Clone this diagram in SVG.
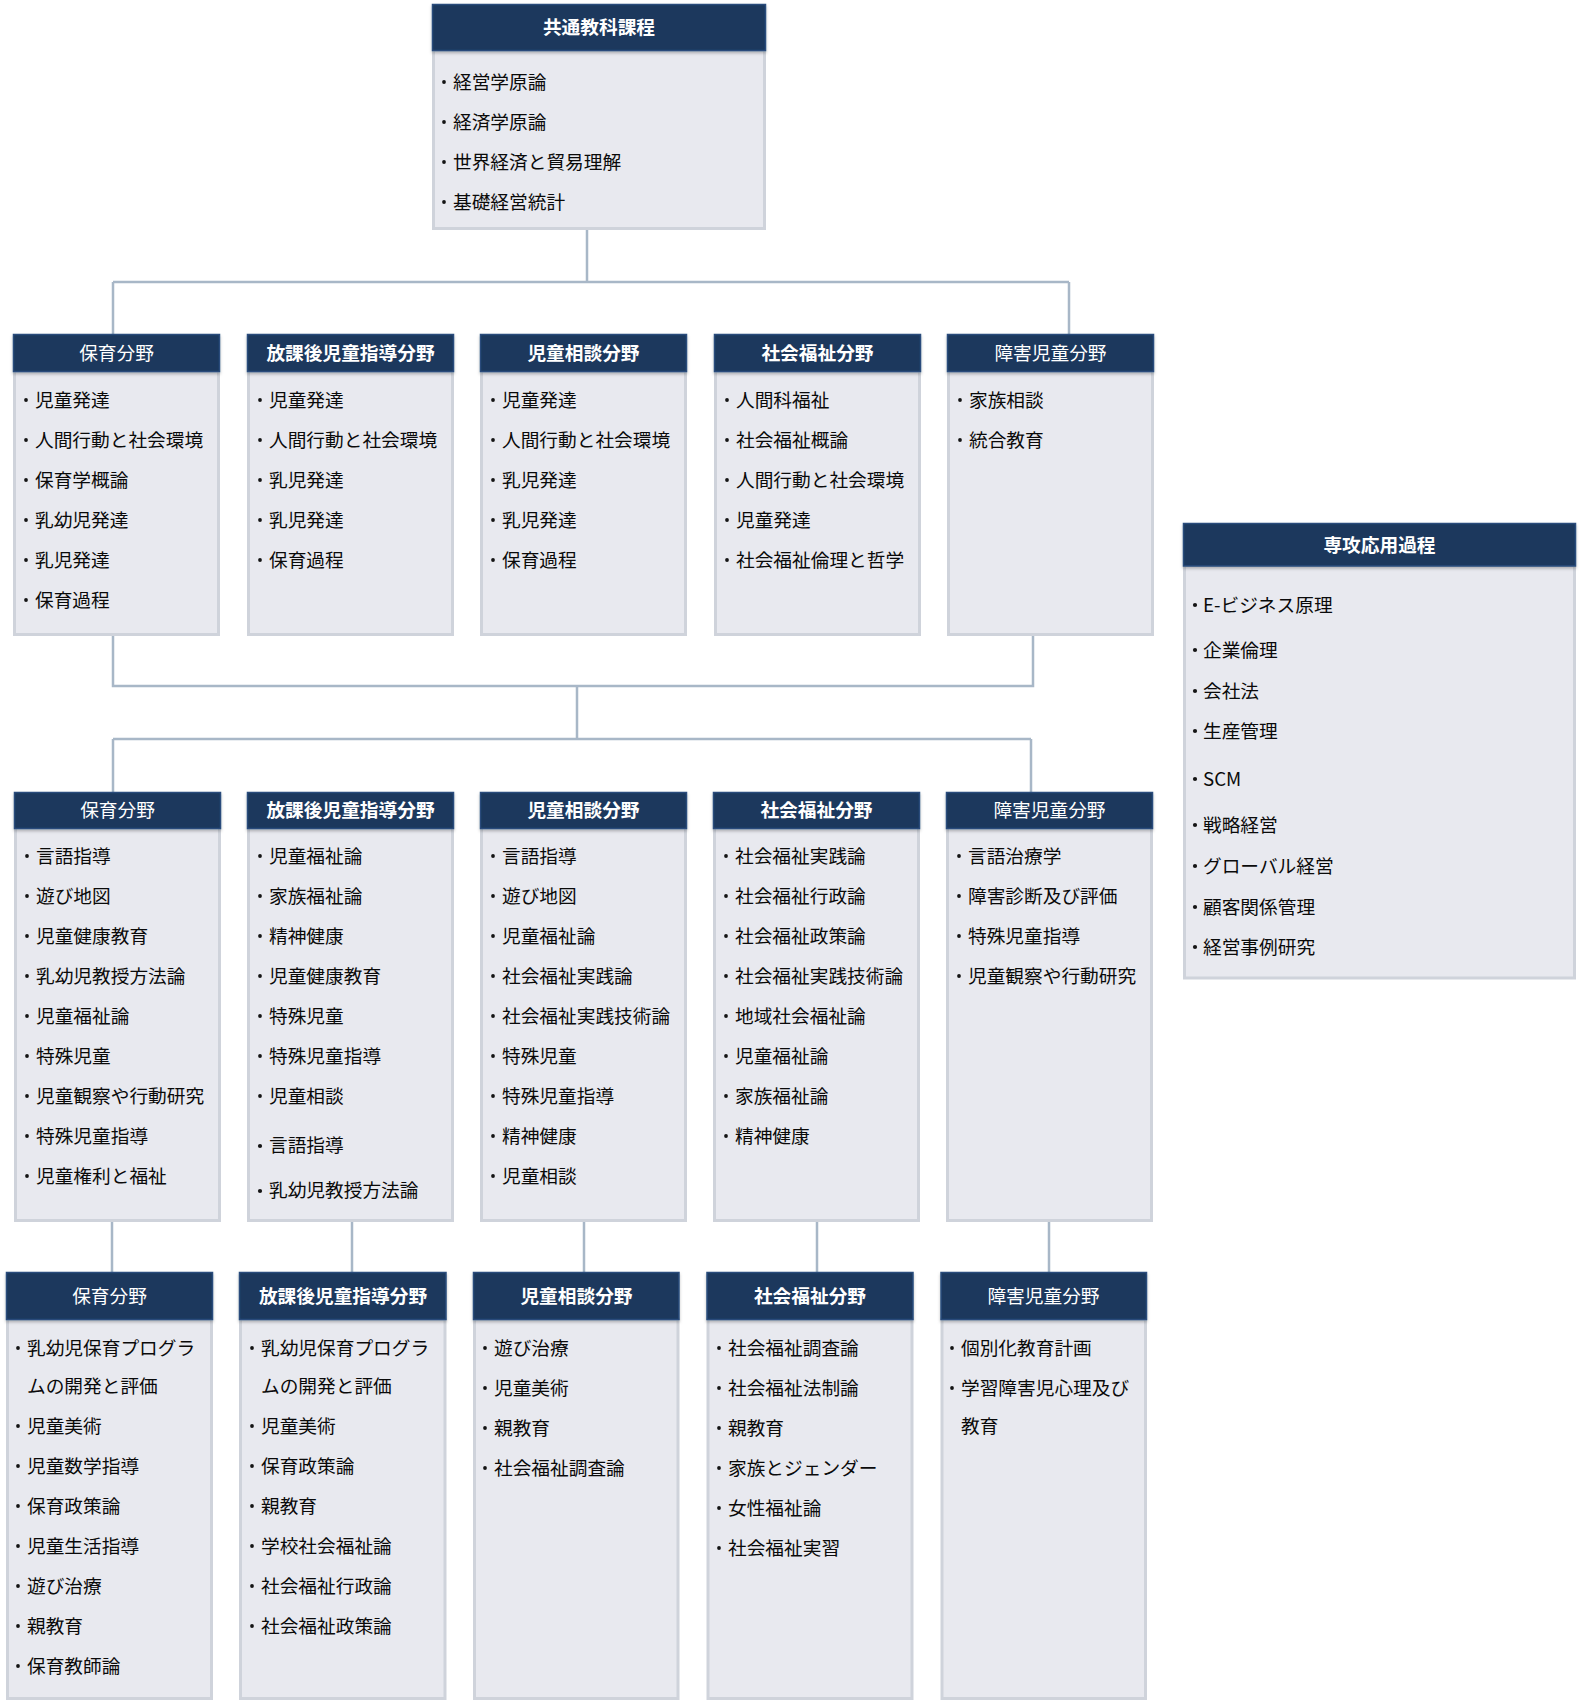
<svg xmlns="http://www.w3.org/2000/svg" width="1582" height="1702" viewBox="0 0 1582 1702">
<style>
.hd{fill:#1b375d;stroke:#2a4c7c;stroke-width:1.5;filter:url(#sh)}
.bd{fill:#e8e9ef;stroke:#cfd3db;stroke-width:3}
.t{font-family:"Noto Sans CJK JP","Noto Sans",sans-serif;font-size:18.7px;fill:#fff;font-weight:bold;text-anchor:middle;dominant-baseline:central;transform:translateY(-2px)}
.tn{font-weight:normal}
.i{font-family:"Noto Sans CJK JP","Noto Sans",sans-serif;font-size:18.7px;fill:#0a0a0a;dominant-baseline:central;transform:translateY(-2.5px)}
.b{fill:#141414}
.c{stroke:#a8b7c7;stroke-width:2.5;fill:none}
</style>
<defs>
<filter id="sh" x="-5%" y="-20%" width="110%" height="160%">
<feDropShadow dx="0" dy="2" stdDeviation="1.5" flood-color="#000" flood-opacity="0.25"/>
</filter>
</defs>
<rect width="1582" height="1702" fill="#fff"/>

<g id="connectors">
<path class="c" d="M587 230V282M113 282H1069M113 282V334M1069 282V334"/>
<path class="c" d="M113 636V686H1033V636M577 686V739M113 739H1031M113 739V792M1031 739V792"/>
<path class="c" d="M112 1222V1272M352 1222V1272M584 1222V1272M817 1222V1272M1049 1222V1272"/>
</g>

<g id="n-common">
<rect class="bd" x="433.5" y="50" width="331" height="178.5"/>
<rect class="hd" x="432.5" y="4.5" width="333" height="46"/>
<text class="t" x="599" y="27">共通教科課程</text>
<g class="b"><circle cx="444" cy="82" r="1.9"/><circle cx="444" cy="122" r="1.9"/><circle cx="444" cy="162" r="1.9"/><circle cx="444" cy="202" r="1.9"/></g>
<text class="i" x="453"><tspan y="82" x="453">経営学原論</tspan><tspan y="122" x="453">経済学原論</tspan><tspan y="162" x="453">世界経済と貿易理解</tspan><tspan y="202" x="453">基礎経営統計</tspan></text>
</g>

<g id="n-major">
<rect class="bd" x="1184.5" y="565" width="390" height="413"/>
<rect class="hd" x="1183.5" y="523.5" width="392" height="42.5"/>
<text class="t" x="1379.5" y="545">専攻応用過程</text>
<g class="b"><circle cx="1195" cy="605" r="2.1"/><circle cx="1195" cy="650" r="2.1"/><circle cx="1195" cy="691" r="2.1"/><circle cx="1195" cy="731" r="2.1"/><circle cx="1195" cy="779" r="2.1"/><circle cx="1195" cy="825" r="2.1"/><circle cx="1195" cy="866" r="2.1"/><circle cx="1195" cy="907" r="2.1"/><circle cx="1195" cy="947" r="2.1"/></g>
<text class="i" x="1203"><tspan x="1203" y="605">E-ビジネス原理</tspan><tspan x="1203" y="650">企業倫理</tspan><tspan x="1203" y="691">会社法</tspan><tspan x="1203" y="731">生産管理</tspan><tspan x="1203" y="779">SCM</tspan><tspan x="1203" y="825">戦略経営</tspan><tspan x="1203" y="866">グローバル経営</tspan><tspan x="1203" y="907">顧客関係管理</tspan><tspan x="1203" y="947">経営事例研究</tspan></text>
</g>

<!-- Row 1 -->
<g id="r1-hoiku">
<rect class="bd" x="14.5" y="371" width="204" height="263.5"/>
<rect class="hd" x="13.5" y="334.5" width="206" height="37"/>
<text class="t tn" x="116.5" y="353">保育分野</text>
<g class="b"><circle cx="26" cy="400" r="1.9"/><circle cx="26" cy="440" r="1.9"/><circle cx="26" cy="480" r="1.9"/><circle cx="26" cy="520" r="1.9"/><circle cx="26" cy="560" r="1.9"/><circle cx="26" cy="600" r="1.9"/></g>
<text class="i"><tspan x="35" y="400">児童発達</tspan><tspan x="35" y="440">人間行動と社会環境</tspan><tspan x="35" y="480">保育学概論</tspan><tspan x="35" y="520">乳幼児発達</tspan><tspan x="35" y="560">乳児発達</tspan><tspan x="35" y="600">保育過程</tspan></text>
</g>

<g id="r1-houkago">
<rect class="bd" x="248.5" y="371" width="204" height="263.5"/>
<rect class="hd" x="247.5" y="334.5" width="206" height="37"/>
<text class="t" x="350.5" y="353">放課後児童指導分野</text>
<g class="b"><circle cx="260" cy="400" r="1.9"/><circle cx="260" cy="440" r="1.9"/><circle cx="260" cy="480" r="1.9"/><circle cx="260" cy="520" r="1.9"/><circle cx="260" cy="560" r="1.9"/></g>
<text class="i"><tspan x="269" y="400">児童発達</tspan><tspan x="269" y="440">人間行動と社会環境</tspan><tspan x="269" y="480">乳児発達</tspan><tspan x="269" y="520">乳児発達</tspan><tspan x="269" y="560">保育過程</tspan></text>
</g>

<g id="r1-soudan">
<rect class="bd" x="481.5" y="371" width="204" height="263.5"/>
<rect class="hd" x="480.5" y="334.5" width="206" height="37"/>
<text class="t" x="583.5" y="353">児童相談分野</text>
<g class="b"><circle cx="493" cy="400" r="1.9"/><circle cx="493" cy="440" r="1.9"/><circle cx="493" cy="480" r="1.9"/><circle cx="493" cy="520" r="1.9"/><circle cx="493" cy="560" r="1.9"/></g>
<text class="i"><tspan x="502" y="400">児童発達</tspan><tspan x="502" y="440">人間行動と社会環境</tspan><tspan x="502" y="480">乳児発達</tspan><tspan x="502" y="520">乳児発達</tspan><tspan x="502" y="560">保育過程</tspan></text>
</g>

<g id="r1-fukushi">
<rect class="bd" x="715.5" y="371" width="204" height="263.5"/>
<rect class="hd" x="714.5" y="334.5" width="206" height="37"/>
<text class="t" x="817.5" y="353">社会福祉分野</text>
<g class="b"><circle cx="727" cy="400" r="1.9"/><circle cx="727" cy="440" r="1.9"/><circle cx="727" cy="480" r="1.9"/><circle cx="727" cy="520" r="1.9"/><circle cx="727" cy="560" r="1.9"/></g>
<text class="i"><tspan x="736" y="400">人間科福祉</tspan><tspan x="736" y="440">社会福祉概論</tspan><tspan x="736" y="480">人間行動と社会環境</tspan><tspan x="736" y="520">児童発達</tspan><tspan x="736" y="560">社会福祉倫理と哲学</tspan></text>
</g>

<g id="r1-shougai">
<rect class="bd" x="948.5" y="371" width="204" height="263.5"/>
<rect class="hd" x="947.5" y="334.5" width="206" height="37"/>
<text class="t tn" x="1050.5" y="353">障害児童分野</text>
<g class="b"><circle cx="960" cy="400" r="1.9"/><circle cx="960" cy="440" r="1.9"/></g>
<text class="i"><tspan x="969" y="400">家族相談</tspan><tspan x="969" y="440">統合教育</tspan></text>
</g>

<!-- Row 2 -->
<g id="r2-hoiku">
<rect class="bd" x="15.5" y="827" width="204" height="393.5"/>
<rect class="hd" x="14.5" y="792.5" width="206" height="36"/>
<text class="t tn" x="117.5" y="810">保育分野</text>
<g class="b"><circle cx="27" cy="856" r="1.9"/><circle cx="27" cy="896" r="1.9"/><circle cx="27" cy="936" r="1.9"/><circle cx="27" cy="976" r="1.9"/><circle cx="27" cy="1016" r="1.9"/><circle cx="27" cy="1056" r="1.9"/><circle cx="27" cy="1096" r="1.9"/><circle cx="27" cy="1136" r="1.9"/><circle cx="27" cy="1176" r="1.9"/></g>
<text class="i"><tspan x="36" y="856">言語指導</tspan><tspan x="36" y="896">遊び地図</tspan><tspan x="36" y="936">児童健康教育</tspan><tspan x="36" y="976">乳幼児教授方法論</tspan><tspan x="36" y="1016">児童福祉論</tspan><tspan x="36" y="1056">特殊児童</tspan><tspan x="36" y="1096">児童観察や行動研究</tspan><tspan x="36" y="1136">特殊児童指導</tspan><tspan x="36" y="1176">児童権利と福祉</tspan></text>
</g>

<g id="r2-houkago">
<rect class="bd" x="248.5" y="827" width="204" height="393.5"/>
<rect class="hd" x="247.5" y="792.5" width="206" height="36"/>
<text class="t" x="350.5" y="810">放課後児童指導分野</text>
<g class="b"><circle cx="260" cy="856" r="1.9"/><circle cx="260" cy="896" r="1.9"/><circle cx="260" cy="936" r="1.9"/><circle cx="260" cy="976" r="1.9"/><circle cx="260" cy="1016" r="1.9"/><circle cx="260" cy="1056" r="1.9"/><circle cx="260" cy="1096" r="1.9"/><circle cx="260" cy="1146" r="2.1"/><circle cx="260" cy="1191" r="2.1"/></g>
<text class="i"><tspan x="269" y="856">児童福祉論</tspan><tspan x="269" y="896">家族福祉論</tspan><tspan x="269" y="936">精神健康</tspan><tspan x="269" y="976">児童健康教育</tspan><tspan x="269" y="1016">特殊児童</tspan><tspan x="269" y="1056">特殊児童指導</tspan><tspan x="269" y="1096">児童相談</tspan><tspan x="269" y="1145">言語指導</tspan><tspan x="269" y="1190">乳幼児教授方法論</tspan></text>
</g>

<g id="r2-soudan">
<rect class="bd" x="481.5" y="827" width="204" height="393.5"/>
<rect class="hd" x="480.5" y="792.5" width="206" height="36"/>
<text class="t" x="583.5" y="810">児童相談分野</text>
<g class="b"><circle cx="493" cy="856" r="1.9"/><circle cx="493" cy="896" r="1.9"/><circle cx="493" cy="936" r="1.9"/><circle cx="493" cy="976" r="1.9"/><circle cx="493" cy="1016" r="1.9"/><circle cx="493" cy="1056" r="1.9"/><circle cx="493" cy="1096" r="1.9"/><circle cx="493" cy="1136" r="1.9"/><circle cx="493" cy="1176" r="1.9"/></g>
<text class="i"><tspan x="502" y="856">言語指導</tspan><tspan x="502" y="896">遊び地図</tspan><tspan x="502" y="936">児童福祉論</tspan><tspan x="502" y="976">社会福祉実践論</tspan><tspan x="502" y="1016">社会福祉実践技術論</tspan><tspan x="502" y="1056">特殊児童</tspan><tspan x="502" y="1096">特殊児童指導</tspan><tspan x="502" y="1136">精神健康</tspan><tspan x="502" y="1176">児童相談</tspan></text>
</g>

<g id="r2-fukushi">
<rect class="bd" x="714.5" y="827" width="204" height="393.5"/>
<rect class="hd" x="713.5" y="792.5" width="206" height="36"/>
<text class="t" x="816.5" y="810">社会福祉分野</text>
<g class="b"><circle cx="726" cy="856" r="1.9"/><circle cx="726" cy="896" r="1.9"/><circle cx="726" cy="936" r="1.9"/><circle cx="726" cy="976" r="1.9"/><circle cx="726" cy="1016" r="1.9"/><circle cx="726" cy="1056" r="1.9"/><circle cx="726" cy="1096" r="1.9"/><circle cx="726" cy="1136" r="1.9"/></g>
<text class="i"><tspan x="735" y="856">社会福祉実践論</tspan><tspan x="735" y="896">社会福祉行政論</tspan><tspan x="735" y="936">社会福祉政策論</tspan><tspan x="735" y="976">社会福祉実践技術論</tspan><tspan x="735" y="1016">地域社会福祉論</tspan><tspan x="735" y="1056">児童福祉論</tspan><tspan x="735" y="1096">家族福祉論</tspan><tspan x="735" y="1136">精神健康</tspan></text>
</g>

<g id="r2-shougai">
<rect class="bd" x="947.5" y="827" width="204" height="393.5"/>
<rect class="hd" x="946.5" y="792.5" width="206" height="36"/>
<text class="t tn" x="1049.5" y="810">障害児童分野</text>
<g class="b"><circle cx="959" cy="856" r="1.9"/><circle cx="959" cy="896" r="1.9"/><circle cx="959" cy="936" r="1.9"/><circle cx="959" cy="976" r="1.9"/></g>
<text class="i"><tspan x="968" y="856">言語治療学</tspan><tspan x="968" y="896">障害診断及び評価</tspan><tspan x="968" y="936">特殊児童指導</tspan><tspan x="968" y="976">児童観察や行動研究</tspan></text>
</g>

<!-- Row 3 -->
<g id="r3-hoiku">
<rect class="bd" x="7.5" y="1319" width="204" height="379.5"/>
<rect class="hd" x="6.5" y="1272.5" width="206" height="47"/>
<text class="t tn" x="109.5" y="1296">保育分野</text>
<g class="b"><circle cx="18" cy="1348" r="1.9"/><circle cx="18" cy="1426" r="1.9"/><circle cx="18" cy="1466" r="1.9"/><circle cx="18" cy="1506" r="1.9"/><circle cx="18" cy="1546" r="1.9"/><circle cx="18" cy="1586" r="1.9"/><circle cx="18" cy="1626" r="1.9"/><circle cx="18" cy="1666" r="1.9"/></g>
<text class="i"><tspan x="27" y="1348">乳幼児保育プログラ</tspan><tspan x="27" y="1386">ムの開発と評価</tspan><tspan x="27" y="1426">児童美術</tspan><tspan x="27" y="1466">児童数学指導</tspan><tspan x="27" y="1506">保育政策論</tspan><tspan x="27" y="1546">児童生活指導</tspan><tspan x="27" y="1586">遊び治療</tspan><tspan x="27" y="1626">親教育</tspan><tspan x="27" y="1666">保育教師論</tspan></text>
</g>

<g id="r3-houkago">
<rect class="bd" x="240.5" y="1319" width="204.5" height="379.5"/>
<rect class="hd" x="239.5" y="1272.5" width="206.5" height="47"/>
<text class="t" x="343" y="1296">放課後児童指導分野</text>
<g class="b"><circle cx="252" cy="1348" r="1.9"/><circle cx="252" cy="1426" r="1.9"/><circle cx="252" cy="1466" r="1.9"/><circle cx="252" cy="1506" r="1.9"/><circle cx="252" cy="1546" r="1.9"/><circle cx="252" cy="1586" r="1.9"/><circle cx="252" cy="1626" r="1.9"/></g>
<text class="i"><tspan x="261" y="1348">乳幼児保育プログラ</tspan><tspan x="261" y="1386">ムの開発と評価</tspan><tspan x="261" y="1426">児童美術</tspan><tspan x="261" y="1466">保育政策論</tspan><tspan x="261" y="1506">親教育</tspan><tspan x="261" y="1546">学校社会福祉論</tspan><tspan x="261" y="1586">社会福祉行政論</tspan><tspan x="261" y="1626">社会福祉政策論</tspan></text>
</g>

<g id="r3-soudan">
<rect class="bd" x="474.5" y="1319" width="203.5" height="379.5"/>
<rect class="hd" x="473.5" y="1272.5" width="205.5" height="47"/>
<text class="t" x="576.5" y="1296">児童相談分野</text>
<g class="b"><circle cx="485" cy="1348" r="1.9"/><circle cx="485" cy="1388" r="1.9"/><circle cx="485" cy="1428" r="1.9"/><circle cx="485" cy="1468" r="1.9"/></g>
<text class="i"><tspan x="494" y="1348">遊び治療</tspan><tspan x="494" y="1388">児童美術</tspan><tspan x="494" y="1428">親教育</tspan><tspan x="494" y="1468">社会福祉調査論</tspan></text>
</g>

<g id="r3-fukushi">
<rect class="bd" x="708" y="1319" width="204" height="379.5"/>
<rect class="hd" x="707" y="1272.5" width="206" height="47"/>
<text class="t" x="810" y="1296">社会福祉分野</text>
<g class="b"><circle cx="719" cy="1348" r="1.9"/><circle cx="719" cy="1388" r="1.9"/><circle cx="719" cy="1428" r="1.9"/><circle cx="719" cy="1468" r="1.9"/><circle cx="719" cy="1508" r="1.9"/><circle cx="719" cy="1548" r="1.9"/></g>
<text class="i"><tspan x="728" y="1348">社会福祉調査論</tspan><tspan x="728" y="1388">社会福祉法制論</tspan><tspan x="728" y="1428">親教育</tspan><tspan x="728" y="1468">家族とジェンダー</tspan><tspan x="728" y="1508">女性福祉論</tspan><tspan x="728" y="1548">社会福祉実習</tspan></text>
</g>

<g id="r3-shougai">
<rect class="bd" x="942" y="1319" width="203.5" height="379.5"/>
<rect class="hd" x="941" y="1272.5" width="205.5" height="47"/>
<text class="t tn" x="1043.5" y="1296">障害児童分野</text>
<g class="b"><circle cx="952" cy="1348" r="1.9"/><circle cx="952" cy="1388" r="1.9"/></g>
<text class="i"><tspan x="961" y="1348">個別化教育計画</tspan><tspan x="961" y="1388">学習障害児心理及び</tspan><tspan x="961" y="1426">教育</tspan></text>
</g>
</svg>
